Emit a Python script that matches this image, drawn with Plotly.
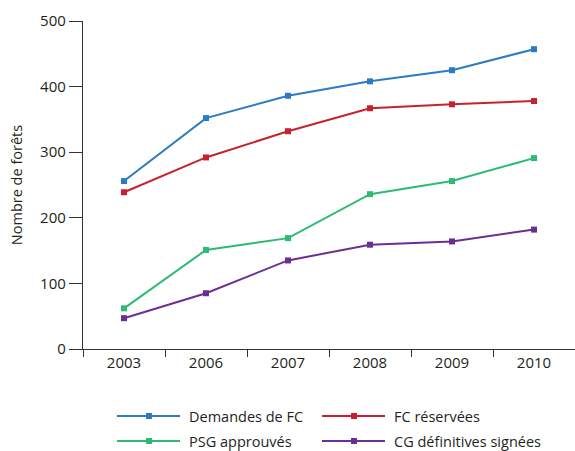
import plotly.graph_objects as go

years = ["2003", "2006", "2007", "2008", "2009", "2010"]
demandes_fc = [256, 352, 386, 408, 425, 457]
fc_reservees = [239, 292, 332, 367, 373, 378]
psg_approuves = [62, 151, 169, 236, 256, 291]
cg_signees = [47, 85, 135, 159, 164, 182]

series_names = ["Demandes de FC", "FC réservées", "PSG approuvés", "CG définitives signées"]
series_values = [demandes_fc, fc_reservees, psg_approuves, cg_signees]
colors = ["#2b7bc5", "#c9202f", "#2dba73", "#6b2f93"]

W, H = 575, 451
L, R, T, B = 83, 0, 21, 102
PW, PH = W - L - R, H - T - B

FONT = "Open Sans, Liberation Sans, sans-serif"
TEXT = "#231f20"

fig = go.Figure()
for name, vals, col in zip(series_names, series_values, colors):
    fig.add_trace(go.Scatter(
        x=years, y=vals, name=name, mode="lines+markers",
        line=dict(color=col, width=2),
        marker=dict(symbol="square", size=6, color=col),
        showlegend=False,
    ))

# hand-built legend: 2 columns x 2 rows below the plot
def px_x(px):
    return (px - L) / PW

def px_y(py):
    return (H - B - py) / PH

legend_slots = [(117, 416), (322, 416), (117, 441), (322, 441)]
shapes, annotations = [], []
for (lx, ly), name, col in zip(legend_slots, series_names, colors):
    shapes.append(dict(type="line", xref="paper", yref="paper",
                       x0=px_x(lx), x1=px_x(lx + 63), y0=px_y(ly), y1=px_y(ly),
                       line=dict(color=col, width=2)))
    mx = lx + 32
    shapes.append(dict(type="rect", xref="paper", yref="paper",
                       x0=px_x(mx - 3), x1=px_x(mx + 3), y0=px_y(ly + 3), y1=px_y(ly - 3),
                       line=dict(width=0), fillcolor=col))
    annotations.append(dict(text=name, xref="paper", yref="paper",
                            x=px_x(lx + 70), y=px_y(ly), xanchor="left", yanchor="middle",
                            showarrow=False, font=dict(family=FONT, size=14.5, color=TEXT)))

fig.update_layout(
    width=W, height=H,
    margin=dict(l=L, r=R, t=T, b=B),
    paper_bgcolor="white", plot_bgcolor="white",
    font=dict(family=FONT, size=14, color=TEXT),
    shapes=shapes, annotations=annotations,
    xaxis=dict(
        type="category", range=[-0.5, 5.5],
        showline=True, linecolor="#333333", linewidth=1.3,
        ticks="outside", tickson="boundaries", ticklen=7, tickcolor="#333333", tickwidth=1.3,
        showgrid=False, zeroline=False,
        tickfont=dict(family=FONT, size=15, color=TEXT),
    ),
    yaxis=dict(
        range=[0, 500], tickvals=[0, 100, 200, 300, 400, 500],
        showline=True, linecolor="#333333", linewidth=1.3,
        ticks="outside", ticklen=13, tickcolor="#333333", tickwidth=1.3,
        showgrid=False, zeroline=False,
        tickfont=dict(family=FONT, size=15, color=TEXT),
        title=dict(text="Nombre de forêts", font=dict(family=FONT, size=14.5, color=TEXT), standoff=14),
    ),
)

fig.write_html("out.html")
